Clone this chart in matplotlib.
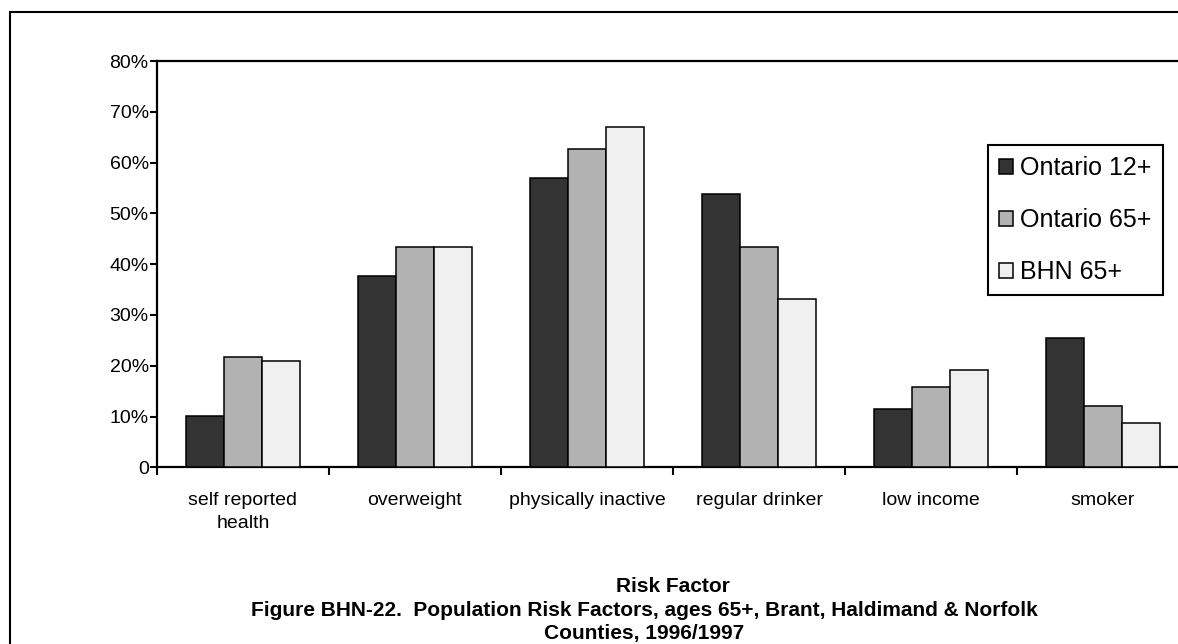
import numpy as np
import matplotlib
matplotlib.use("Agg")
import matplotlib.pyplot as plt
from matplotlib.patches import Patch, Rectangle

plt.rcParams["font.family"] = ["Liberation Sans", "DejaVu Sans"]

CATEGORIES = ["self reported\nhealth", "overweight", "physically inactive",
              "regular drinker", "low income", "smoker"]
SERIES = ["Ontario 12+", "Ontario 65+", "BHN 65+"]
ONTARIO_12 = [10.1, 37.6, 56.9, 53.8, 11.4, 25.5]
ONTARIO_65 = [21.7, 43.4, 62.7, 43.4, 15.9, 12.0]
BHN_65 = [21.0, 43.4, 67.1, 33.2, 19.1, 8.8]
Y_TICKS = [0, 10, 20, 30, 40, 50, 60, 70, 80]
Y_LABELS = ["0", "10%", "20%", "30%", "40%", "50%", "60%", "70%", "80%"]

COLORS = ["#333333", "#b2b2b2", "#f0f0f0"]
W, H = 1178, 644

fig = plt.figure(figsize=(W / 100, H / 100), dpi=100)
fig.patch.set_facecolor("white")

# outer chart-area frame (cropped on the right and bottom)
fig.patches.append(Rectangle((10 / W, -0.1), 1.2, 1.1 - 12 / H,
                             transform=fig.transFigure, fill=False,
                             edgecolor="black", linewidth=1.5))

ax = fig.add_axes([157 / W, (H - 467.3) / H, (1189 - 157) / W, (467.3 - 61) / H])

x = np.arange(len(CATEGORIES))
bw = 0.22
for i, (vals, col) in enumerate(zip([ONTARIO_12, ONTARIO_65, BHN_65], COLORS)):
    ax.bar(x + (i - 1) * bw, vals, bw, color=col, edgecolor="black",
           linewidth=1.1, zorder=3)

ax.set_xlim(-0.5, len(CATEGORIES) - 0.5)
ax.set_ylim(0, 80)
ax.set_yticks(Y_TICKS)
ax.set_yticklabels(Y_LABELS, fontsize=14)
ax.tick_params(axis="y", direction="out", length=5, width=1.5, pad=1)

ax.set_xticks(np.arange(-0.5, len(CATEGORIES)), labels=[""] * (len(CATEGORIES) + 1))
ax.tick_params(axis="x", which="major", direction="out", length=6, width=1.5)
ax.set_xticks(x, minor=True)
ax.set_xticklabels(CATEGORIES, minor=True, fontsize=14, linespacing=1.45)
ax.tick_params(axis="x", which="minor", length=0, pad=18)

for side in ["left", "top", "bottom"]:
    ax.spines[side].set_linewidth(1.6)
ax.spines["right"].set_visible(False)

handles = [Patch(facecolor=c, edgecolor="black", linewidth=1.1, label=s)
           for c, s in zip(COLORS, SERIES)]
leg = ax.legend(handles=handles, loc="upper left",
                bbox_to_anchor=(988 / W, 1 - 145 / H), bbox_transform=fig.transFigure,
                frameon=True, fancybox=False, framealpha=1, edgecolor="black",
                fontsize=18, handlelength=0.55, handleheight=0.55, handletextpad=0.3,
                labelspacing=1.12, borderpad=0.45, borderaxespad=0)
leg.get_frame().set_linewidth(1.5)

fig.text(673 / W, 1 - 586 / H, "Risk Factor", ha="center", va="center",
         fontsize=15, fontweight="bold")
fig.text(644 / W, 1 - 610 / H,
         "Figure BHN-22.  Population Risk Factors, ages 65+, Brant, Haldimand & Norfolk",
         ha="center", va="center", fontsize=15, fontweight="bold")
fig.text(644 / W, 1 - 633 / H, "Counties, 1996/1997", ha="center", va="center",
         fontsize=15, fontweight="bold")

fig.savefig("out.png", dpi=100)
